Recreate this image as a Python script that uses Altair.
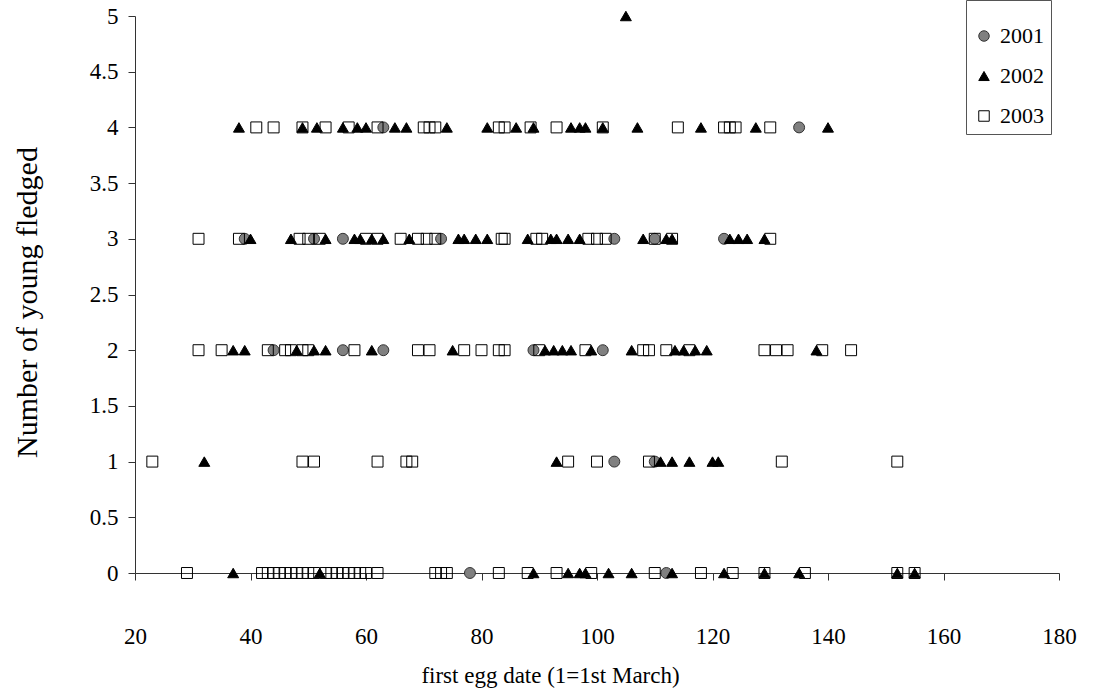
import altair as alt
import pandas as pd

# First egg date (days, 1 = 1st March) of each nest, grouped by number of young fledged
dates_2001 = {
    0: [78, 112],
    1: [103, 110],
    2: [44, 56, 63, 89, 101],
    3: [39, 51, 56, 73, 103, 110, 122],
    4: [63, 135],
}
dates_2002 = {
    0: [37, 52, 89, 95, 97, 98, 102, 106, 113, 122, 129, 135, 152, 155],
    1: [32, 93, 111, 113, 116, 120, 121],
    2: [37, 39, 48, 51, 53, 61, 75, 91, 92.5, 94, 95.5, 99, 106, 113.5, 115, 117, 119, 138],
    3: [40, 47, 53, 58, 59, 61, 63, 67.5, 76, 77, 79, 81, 88, 92, 93, 95, 97,
        108, 112, 113, 123, 124.5, 126, 129],
    4: [38, 49, 51.5, 56, 58.5, 60, 65, 67, 74, 81, 86, 89, 95.5, 97, 98, 101,
        107, 118, 127.5, 140],
    5: [105],
}
dates_2003 = {
    0: [29, 42, 43, 44, 45, 46, 47, 48, 49, 50, 51, 53, 54, 55, 56, 57, 58, 59, 60, 62,
        72, 73, 74, 83, 88, 93, 99, 110, 118, 123.5, 129, 136, 152, 155],
    1: [23, 49, 51, 62, 67, 68, 95, 100, 109, 132, 152],
    2: [31, 35, 43, 46, 47, 49, 50, 58, 69, 71, 77, 80, 83, 84, 90, 98, 108, 109,
        112, 116, 129, 131, 133, 139, 144],
    3: [31, 38, 48.5, 50, 52, 60, 62, 66, 69, 70.5, 72, 83.5, 84, 89.5, 90.5,
        98.5, 100, 101.5, 110, 113, 130],
    4: [41, 44, 49, 53, 57, 62, 70, 71, 72, 83, 84, 88.5, 93, 101, 114, 122, 123, 124, 130],
}

years = ["2001", "2002", "2003"]
shapes = ["circle", "triangle-up", "square"]
fills = ["#808080", "#000000", "transparent"]
strokes = ["#333333", "#000000", "#000000"]

rows = []
for year, table in zip(years, [dates_2001, dates_2002, dates_2003]):
    for fledged, dates in table.items():
        for d in dates:
            rows.append({"year": year, "date": d, "fledged": fledged})
df = pd.DataFrame(rows)

FONT = "Liberation Serif"

legend = alt.Legend(
    title=" ",
    titleFontSize=10,
    titlePadding=8,
    orient="none",
    legendX=831,
    legendY=-16,
    strokeColor="#555555",
    fillColor="white",
    padding=7,
    rowPadding=18,
    symbolSize=110,
    symbolStrokeWidth=1,
    labelFont=FONT,
    labelFontSize=22,
    labelColor="black",
    labelOffset=5,
)

chart = (
    alt.Chart(df)
    .mark_point(size=120, strokeWidth=1, opacity=1)
    .encode(
        x=alt.X(
            "date:Q",
            scale=alt.Scale(domain=[20, 180], nice=False, zero=False),
            axis=alt.Axis(
                values=list(range(20, 181, 20)),
                title="first egg date (1=1st March)",
                titleX=415,
                titleY=102,
                titleAlign="center",
                titleBaseline="middle",
                labelBaseline="middle",
                labelFlush=False,
                labelPadding=56,
            ),
        ),
        y=alt.Y(
            "fledged:Q",
            scale=alt.Scale(domain=[0, 5], nice=False),
            axis=alt.Axis(
                values=[i * 0.5 for i in range(11)],
                format="~g",
                title="Number of young fledged",
                titleFontSize=30,
                titleX=-108,
                titleY=286,
                titleAngle=-90,
                titleAlign="center",
                titleBaseline="middle",
                labelPadding=10,
            ),
        ),
        shape=alt.Shape("year:N", scale=alt.Scale(domain=years, range=shapes), legend=legend),
        fill=alt.Fill("year:N", scale=alt.Scale(domain=years, range=fills), legend=legend),
        stroke=alt.Stroke("year:N", scale=alt.Scale(domain=years, range=strokes), legend=legend),
        order=alt.Order("year:N"),
    )
    .properties(
        width=924,
        height=557,
        background="white",
        autosize=alt.AutoSizeParams(type="none"),
        padding={"left": 135, "top": 16, "right": 43, "bottom": 123},
    )
    .configure_view(stroke=None)
    .configure_axis(
        grid=False,
        domainColor="#333333",
        domainWidth=1,
        tickColor="#333333",
        tickSize=7,
        labelFont=FONT,
        labelFontSize=23,
        labelColor="black",
        titleFont=FONT,
        titleFontSize=23,
        titleFontWeight="normal",
        titleColor="black",
    )
)

chart.save("out.html", embed_options={"renderer": "svg", "actions": False})
